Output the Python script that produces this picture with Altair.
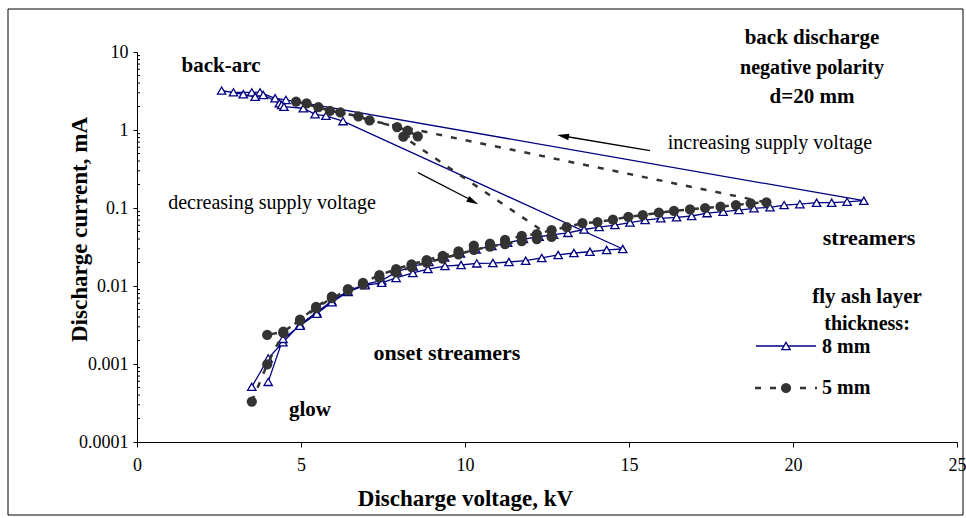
import altair as alt
import pandas as pd

# ---------------- data ----------------
# 8 mm fly ash layer (open triangles, solid line), in measurement order
kv_8 = [3.50, 4.00, 4.45, 4.97, 5.48, 5.94, 6.43, 6.95, 7.46, 7.94, 8.42, 8.90, 9.38, 9.86,
        10.34, 10.82, 11.30, 11.78, 12.26, 12.70, 13.14, 13.63, 14.09, 14.57, 15.03, 15.49,
        15.97, 16.45, 16.91, 17.38, 17.87, 18.35, 18.81, 19.30, 19.73, 20.21, 20.72, 21.18,
        21.65, 22.16,
        4.54, 4.21, 3.75, 3.50, 2.94, 2.58, 3.24, 3.60, 3.85, 4.34, 4.41, 4.48, 5.07, 5.43,
        5.76, 6.28,
        14.81, 14.32, 13.81, 13.32, 12.84, 12.34, 11.85, 11.34, 10.85, 10.36, 9.88, 9.39,
        8.87, 8.41, 7.90, 7.46, 6.95, 6.43, 5.94, 5.48, 4.97, 4.45, 4.00]
ma_8 = [0.00051, 0.00118, 0.0019, 0.0032, 0.0046, 0.0064, 0.0086, 0.0105, 0.0118, 0.0153,
        0.0178, 0.0203, 0.0232, 0.0262, 0.0295, 0.0325, 0.0358, 0.040, 0.0428, 0.0455,
        0.048, 0.053, 0.057, 0.0605, 0.065, 0.070, 0.0738, 0.076, 0.079, 0.086, 0.0897,
        0.094, 0.099, 0.102, 0.109, 0.112, 0.117, 0.117, 0.120, 0.124,
        2.43, 2.55, 3.04, 3.04, 3.04, 3.20, 2.87, 2.67, 2.81, 2.20, 2.09, 1.99, 1.90, 1.59,
        1.52, 1.30,
        0.0298, 0.029, 0.0275, 0.0265, 0.025, 0.0229, 0.0211, 0.0203, 0.0197, 0.0195,
        0.0186, 0.018, 0.0165, 0.0147, 0.0127, 0.011, 0.0102, 0.0084, 0.0062, 0.0044,
        0.0031, 0.0021, 0.00059]

# 5 mm fly ash layer (filled circles, dashed line), in measurement order
kv_5 = [3.50, 3.97, 4.46, 4.97, 5.46, 5.94, 6.43, 6.89, 7.39, 7.90, 8.37, 8.83, 9.32, 9.80,
        10.27, 10.76, 11.22, 11.73, 12.19, 12.64, 13.10, 13.58, 14.04, 14.51, 14.98, 15.42,
        15.91, 16.37, 16.86, 17.32, 17.79, 18.26, 18.71, 19.19,
        7.09, 6.75, 6.20, 5.88, 5.53, 5.17, 4.85, 7.93, 8.25, 8.56, 8.12,
        12.64, 12.19, 11.73, 11.22, 10.76, 10.27, 9.80, 9.32, 8.83, 8.37, 7.90, 7.39, 6.89,
        6.43, 5.94, 5.46, 4.97, 4.46, 3.97]
ma_5 = [0.00033, 0.00099, 0.0025, 0.0037, 0.0054, 0.0073, 0.0091, 0.011, 0.0138, 0.0164,
        0.019, 0.0215, 0.0244, 0.0277, 0.033, 0.035, 0.0389, 0.0438, 0.0464, 0.052, 0.057,
        0.064, 0.066, 0.0709, 0.077, 0.081, 0.087, 0.0916, 0.096, 0.100, 0.104, 0.109,
        0.115, 0.118,
        1.33, 1.50, 1.68, 1.76, 1.96, 2.20, 2.31, 1.09, 0.98, 0.83, 0.82,
        0.0425, 0.040, 0.0377, 0.0345, 0.032, 0.029, 0.0255, 0.0225, 0.020, 0.0175, 0.015,
        0.0128, 0.0105, 0.0088, 0.0070, 0.0052, 0.0036, 0.0026, 0.00236]

x_ticks = [0, 5, 10, 15, 20, 25]
y_ticks = [0.0001, 0.001, 0.01, 0.1, 1, 10]
minor_ticks = [m * d for d in [0.0001, 0.001, 0.01, 0.1, 1] for m in range(2, 10)]

# ---------------- chart ----------------
SERIF = "Liberation Serif"
W, H = 820, 390
NAVY = "#000080"
DARK = "#333333"

df8 = pd.DataFrame({"kv": kv_8, "ma": ma_8, "i": range(len(kv_8))})
df5 = pd.DataFrame({"kv": kv_5, "ma": ma_5, "i": range(len(kv_5))})
dfm = pd.DataFrame({"ma": minor_ticks})
one = pd.DataFrame({"a": [0]})

xs = alt.Scale(domain=[0, 25], nice=False, zero=False, padding=0)
ys = alt.Scale(type="log", domain=[0.0001, 10], nice=False, padding=0)

x_enc = alt.X("kv:Q", scale=xs, axis=alt.Axis(
    values=x_ticks, title="Discharge  voltage, kV", grid=False, tickSize=5,
    labelPadding=9, labelFlush=False, labelOverlap=False,
    titleX=328, titleY=56, titleAnchor="middle", titleAlign="center",
    titleBaseline="middle"))
y_enc = alt.Y("ma:Q", scale=ys, axis=alt.Axis(
    values=y_ticks, format="~g", title="Discharge current, mA", grid=False, tickSize=4,
    labelPadding=5, labelFlush=False, labelOverlap=False,
    titleX=-58, titleY=177, titleAngle=-90, titleAlign="center",
    titleBaseline="middle"))

base8 = alt.Chart(df8)
line8 = base8.mark_line(color=NAVY, strokeWidth=1.3).encode(
    x=x_enc, y=y_enc, order=alt.Order("i:Q"))
pts8 = base8.mark_point(shape="triangle-up", size=70, filled=True, fill="white",
                        stroke=NAVY, strokeWidth=1.3, opacity=1).encode(
    x=alt.X("kv:Q", scale=xs), y=alt.Y("ma:Q", scale=ys))

base5 = alt.Chart(df5)
line5 = base5.mark_line(color=DARK, strokeWidth=2.5, strokeDash=[6, 9]).encode(
    x=alt.X("kv:Q", scale=xs), y=alt.Y("ma:Q", scale=ys), order=alt.Order("i:Q"))
pts5 = base5.mark_circle(size=105, color=DARK, opacity=1).encode(
    x=alt.X("kv:Q", scale=xs), y=alt.Y("ma:Q", scale=ys))

minor = alt.Chart(dfm).mark_rule(color="black", strokeWidth=1).encode(
    y=alt.Y("ma:Q", scale=ys), x=alt.value(0), x2=alt.value(3))

border = alt.Chart(one).mark_rect(fill="transparent", stroke="black", strokeWidth=1).encode(
    x=alt.value(-129), x2=alt.value(826), y=alt.value(-43), y2=alt.value(463))


def label(text, x, y, bold=True, size=21, align="center"):
    return alt.Chart(one).mark_text(
        text=text, font=SERIF, fontSize=size, fontWeight="bold" if bold else "normal",
        align=align, baseline="middle", color="black").encode(
        x=alt.value(x), y=alt.value(y))


texts = [
    label("back-arc", 84, 14),
    label("back  discharge", 675, -14),
    label("negative polarity", 675, 16, size=20),
    label("d=20 mm", 675, 45),
    label("increasing supply voltage", 633, 91, bold=False, size=20),
    label("decreasing supply voltage", 135, 151, bold=False, size=20),
    label("streamers", 732, 186, size=22),
    label("fly ash layer", 730, 245, size=21),
    label("thickness:", 730, 272, size=20),
    label("8 mm", 685, 295, size=20, align="left"),
    label("5 mm", 685, 336, size=20, align="left"),
    label("onset  streamers", 310, 301, size=22),
    label("glow", 173, 358),
]


def seg(x1, y1, x2, y2, color="black", width=1.3, dash=None):
    kw = dict(color=color, strokeWidth=width)
    if dash:
        kw["strokeDash"] = dash
    return alt.Chart(one).mark_rule(**kw).encode(
        x=alt.value(x1), y=alt.value(y1), x2=alt.value(x2), y2=alt.value(y2))


HEAD = "M0,-1L0.55,1L-0.55,1Z"


def head(x, y, angle):
    return alt.Chart(one).mark_point(shape=HEAD, size=140, filled=True, color="black",
                                     opacity=1, angle=angle).encode(
        x=alt.value(x), y=alt.value(y))


arrows = [
    seg(513, 98.7, 426, 84),
    head(426, 84, 279.7),
    seg(281, 120.7, 334, 148),
    head(336, 149.5, 117),
]

legend = [
    seg(619, 294, 679, 294, color=NAVY, width=1.3),
    alt.Chart(one).mark_point(shape="triangle-up", size=70, filled=True, fill="white",
                              stroke=NAVY, strokeWidth=1.3, opacity=1).encode(
        x=alt.value(649), y=alt.value(294)),
    seg(618, 336, 680, 336, color=DARK, width=2.5, dash=[6, 9]),
    alt.Chart(one).mark_circle(size=105, color=DARK, opacity=1).encode(
        x=alt.value(649), y=alt.value(336)),
]

chart = alt.layer(
    border, minor, line8, pts8, line5, pts5, *texts, *arrows, *legend
).properties(
    width=W, height=H,
    autosize=alt.AutoSizeParams(type="none"),
    padding={"left": 137, "top": 52, "right": 9, "bottom": 76},
    background="white",
).configure_view(strokeWidth=0).configure_axis(
    labelFont=SERIF, labelFontSize=18, labelColor="black",
    titleFont=SERIF, titleFontSize=23, titleFontWeight="bold", titleColor="black",
    domainColor="black", tickColor="black", domainWidth=1, tickWidth=1,
)

chart.save("out.html", embed_options={"renderer": "svg", "actions": False})
